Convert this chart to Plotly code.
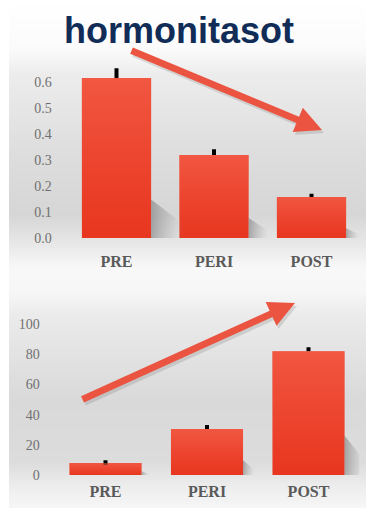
import base64
import plotly.graph_objects as go

# ---- data ----
phases = ["PRE", "PERI", "POST"]
hormone_level = [0.615, 0.319, 0.158]
hormone_err_up = [0.038, 0.022, 0.012]
hormone_err_down = [0.0, 0.0, 0.0]
second_level = [8, 30.5, 82]
second_err_up = [1.8, 2.6, 2.6]
second_err_down = [1.2, 0.0, 0.0]
title_text = "hormonitasot"

W, H = 366, 508
BG_LEFT = 9
BAR_WIDTH = 0.71
BAR_BASE = "#e8361f"
TICK_FONT = dict(family="Liberation Serif", size=14, color="#707070")
CAT_FONT = dict(family="Liberation Serif", size=16, color="#5a5a5a", weight="bold")
pos = list(range(len(phases)))

fig = go.Figure()

# soft grey backdrop: one-column heatmap on a hidden full-page axis pair (pixel units)
bg_stops = [
    (0, "#ffffff"), (48, "#fbfbfb"), (75, "#ececec"), (150, "#dedede"),
    (215, "#d6d6d6"), (245, "#e8e8e8"), (268, "#f8f8f8"), (292, "#f7f7f7"),
    (315, "#ebebeb"), (400, "#d9d9d9"), (462, "#dcdcdc"), (488, "#eeeeee"),
    (508, "#f6f6f6"),
]
row_edges = list(range(0, H + 1, 2))
fig.add_trace(go.Heatmap(
    x=[BG_LEFT, W], y=row_edges, z=[[e + 1] for e in row_edges[:-1]],
    zmin=0, zmax=H, showscale=False, hoverinfo="skip",
    colorscale=[[p / H, c] for p, c in bg_stops],
    xaxis="x", yaxis="y",
))

# the same gradient as a page-level backdrop image underneath everything
stops_svg = "".join(
    f"<stop offset='{p / H:.4f}' stop-color='{c}'/>" for p, c in bg_stops
)
svg = (
    "<svg xmlns='http://www.w3.org/2000/svg' width='100' height='100' preserveAspectRatio='none'>"
    f"<defs><linearGradient id='g' x1='0' y1='0' x2='0' y2='1'>{stops_svg}</linearGradient></defs>"
    "<rect x='0' y='0' width='100' height='100' fill='url(#g)'/></svg>"
)
bg_uri = "data:image/svg+xml;base64," + base64.b64encode(svg.encode()).decode()
fig.add_layout_image(
    source=bg_uri, xref="paper", yref="paper", x=BG_LEFT / W, y=1,
    sizex=(W - BG_LEFT) / W, sizey=1, xanchor="left", yanchor="top",
    sizing="stretch", layer="below",
)


def add_panel(values, err_up, err_down, xa, ya, shadow_h, shadow_w):
    vmax = max(values)
    # soft cast shadows to the right of each bar's foot
    for i, v in enumerate(values):
        xr = i + BAR_WIDTH / 2
        hs = shadow_h * v
        ds = 0.06 + shadow_w * v / vmax
        fig.add_trace(go.Scatter(
            x=[xr, xr, xr + ds, xr + ds, xr], y=[0, hs, hs * 0.35, 0, 0],
            mode="lines", fill="toself", line=dict(width=0), hoverinfo="skip",
            showlegend=False, xaxis=xa, yaxis=ya,
            fillgradient=dict(type="horizontal", start=xr, stop=xr + ds,
                              colorscale=[[0, "rgba(90,90,90,0.45)"], [1, "rgba(150,150,150,0)"]]),
        ))
    fig.add_trace(go.Bar(
        x=pos, y=values, width=BAR_WIDTH, marker=dict(color=BAR_BASE, line=dict(width=0)),
        error_y=dict(type="data", symmetric=False, array=err_up, arrayminus=err_down,
                     color="black", thickness=4, width=0),
        xaxis=xa, yaxis=ya, showlegend=False,
    ))
    # lighter sheen towards the top of every bar
    for i, v in enumerate(values):
        xl, xr = i - BAR_WIDTH / 2, i + BAR_WIDTH / 2
        fig.add_trace(go.Scatter(
            x=[xl, xr, xr, xl, xl], y=[0, 0, v, v, 0],
            mode="lines", fill="toself", line=dict(width=0), hoverinfo="skip",
            showlegend=False, xaxis=xa, yaxis=ya,
            fillgradient=dict(type="vertical", start=0, stop=v,
                              colorscale=[[0, "rgba(250,110,90,0)"], [1, "rgba(250,120,100,0.5)"]]),
        ))


add_panel(hormone_level, hormone_err_up, hormone_err_down, "x2", "y2", 0.24, 0.28)
add_panel(second_level, second_err_up, second_err_down, "x3", "y3", 0.32, 0.14)

hidden = dict(visible=False, showgrid=False, zeroline=False, automargin=False)
plain = dict(showgrid=False, zeroline=False, showline=False, ticks="", automargin=False)
cat_ticks = dict(tickmode="array", tickvals=pos, ticktext=phases, tickfont=CAT_FONT)
fig.update_layout(
    width=W, height=H, autosize=False, showlegend=False,
    margin=dict(l=0, r=0, t=0, b=0, pad=0),
    paper_bgcolor="white", plot_bgcolor="rgba(0,0,0,0)",
    xaxis=dict(domain=[0, 1], range=[0, W], **hidden),
    yaxis=dict(domain=[0, 1], range=[H, 0], **hidden),
    xaxis2=dict(domain=[67.75 / W, 360.25 / W], range=[-0.5, 2.5], anchor="y2",
                ticklabelstandoff=12, **cat_ticks, **plain),
    yaxis2=dict(domain=[(H - 238) / H, (H - 60) / H], range=[0, 178 / 260], anchor="x2",
                tickvals=[0, 0.1, 0.2, 0.3, 0.4, 0.5, 0.6], tickformat=".1f",
                tickfont=TICK_FONT, ticklabelstandoff=15, **plain),
    xaxis3=dict(domain=[54.75 / W, 359.25 / W], range=[-0.5, 2.5], anchor="y3",
                ticklabelstandoff=5, **cat_ticks, **plain),
    yaxis3=dict(domain=[(H - 475) / H, (H - 300) / H], range=[0, 175 / 1.51], anchor="x3",
                tickvals=[0, 20, 40, 60, 80, 100],
                tickfont=TICK_FONT, ticklabelstandoff=14, **plain),
)

# heading
fig.add_annotation(
    text=f"<b>{title_text}</b>", x=179 / W, y=1 - 30 / H, xref="paper", yref="paper",
    showarrow=False, xanchor="center", yanchor="middle",
    font=dict(family="Liberation Sans", size=36, color="#112d57"),
)

# trend arrows, each with a faint drop shadow
ARROW = "#ea5440"
for tip, tail in [((322, 130), (130, 50)), ((295, 303), (81, 400))]:
    for off, col in [((2, 3), "rgba(60,60,60,0.15)"), ((0, 0), ARROW)]:
        fig.add_annotation(
            x=(tip[0] + off[0]) / W, y=1 - (tip[1] + off[1]) / H, xref="paper", yref="paper",
            ax=tail[0] - tip[0], ay=tail[1] - tip[1], axref="pixel", ayref="pixel",
            text="", showarrow=True, arrowhead=2, arrowwidth=7, arrowsize=0.75,
            arrowcolor=col,
        )

fig.write_html("out.html")
